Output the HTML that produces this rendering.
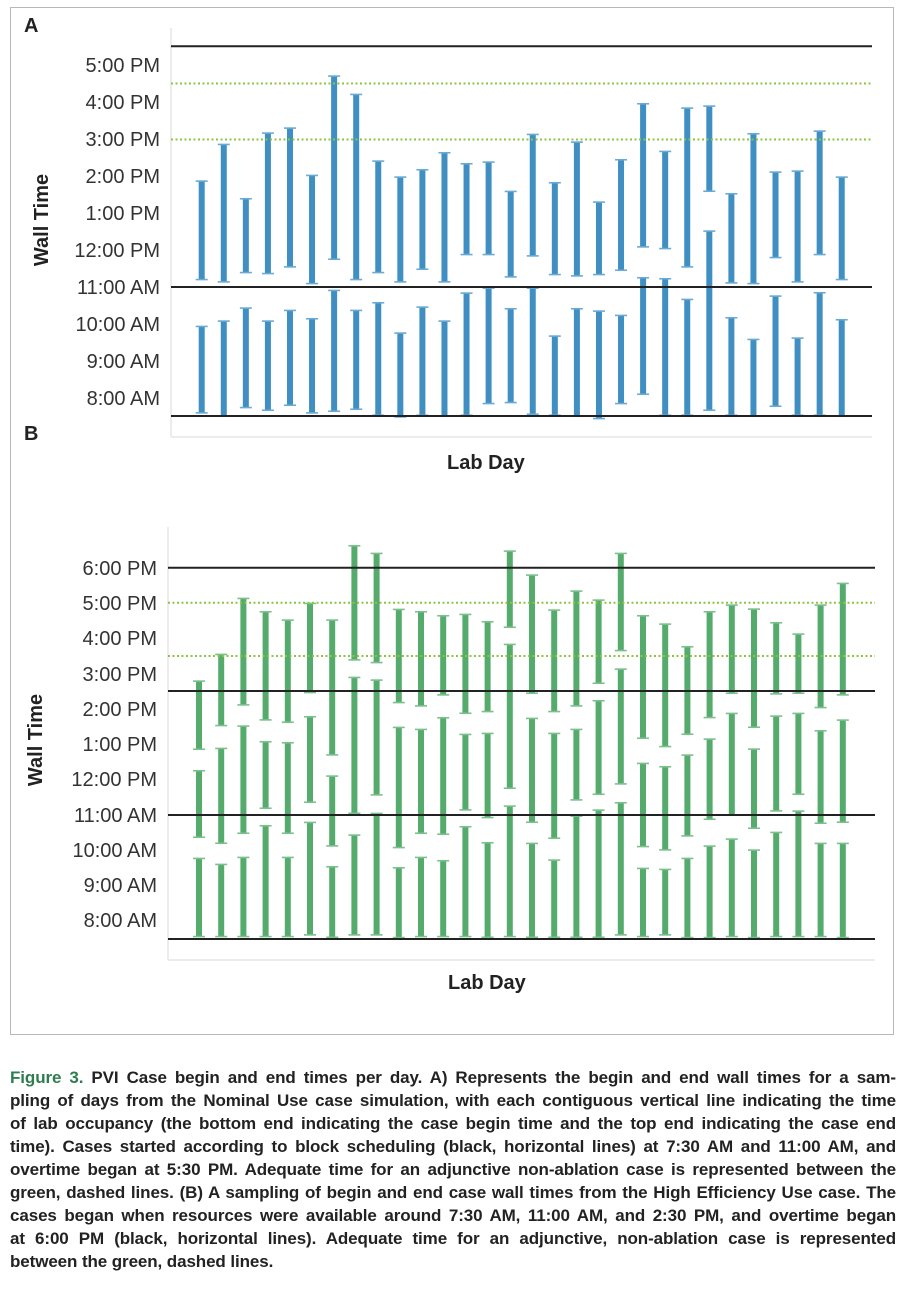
<!DOCTYPE html>
<html><head><meta charset="utf-8"><style>
body{margin:0;background:#fff;width:906px;height:1300px;position:relative;overflow:hidden;font-family:"Liberation Sans",sans-serif}
#frame{position:absolute;left:10px;top:7px;width:884px;height:1028px;border:1.5px solid #b8b8b8;box-sizing:border-box}
.cap{position:absolute;left:10px;width:886px;font-size:17px;font-weight:bold;color:#222;white-space:nowrap;text-align:justify;text-align-last:justify;letter-spacing:-0.1px;line-height:23px}
.last{text-align-last:left}
</style></head><body>
<div id="frame"></div>
<svg id="s" width="906" height="1040" style="position:absolute;left:0;top:0" font-family="Liberation Sans, sans-serif">
<g font-size="20" fill="#333" text-anchor="end">
<text x="160" y="72">5:00 PM</text><text x="160" y="109">4:00 PM</text><text x="160" y="146">3:00 PM</text><text x="160" y="183">2:00 PM</text><text x="160" y="220">1:00 PM</text><text x="160" y="257">12:00 PM</text><text x="160" y="294">11:00 AM</text><text x="160" y="331">10:00 AM</text><text x="160" y="368">9:00 AM</text><text x="160" y="405">8:00 AM</text>
<text x="157" y="575">6:00 PM</text><text x="157" y="610">5:00 PM</text><text x="157" y="645">4:00 PM</text><text x="157" y="681">3:00 PM</text><text x="157" y="716">2:00 PM</text><text x="157" y="751">1:00 PM</text><text x="157" y="786">12:00 PM</text><text x="157" y="822">11:00 AM</text><text x="157" y="857">10:00 AM</text><text x="157" y="892">9:00 AM</text><text x="157" y="927">8:00 AM</text>
</g>
<g font-weight="bold" font-size="20" fill="#222">
<text x="24" y="32">A</text><text x="24" y="440">B</text>
<text x="447" y="469">Lab Day</text><text x="448" y="989">Lab Day</text>
<text transform="translate(48,220) rotate(-90)" text-anchor="middle">Wall Time</text>
<text transform="translate(42,740) rotate(-90)" text-anchor="middle">Wall Time</text>
</g>
<g stroke="#e6e6e6" stroke-width="1.5">
<line x1="171" y1="28" x2="171" y2="437"/><line x1="171" y1="437" x2="872" y2="437"/>
<line x1="168" y1="527" x2="168" y2="960"/><line x1="168" y1="960" x2="875" y2="960"/>
</g>
<g id="bars"></g>
<g stroke="#222" stroke-width="2">
<line x1="171" y1="46.3" x2="872" y2="46.3"/><line x1="171" y1="287" x2="872" y2="287"/><line x1="171" y1="416" x2="872" y2="416"/>
<line x1="168" y1="567.7" x2="875" y2="567.7"/><line x1="168" y1="691" x2="875" y2="691"/><line x1="168" y1="815" x2="875" y2="815"/><line x1="168" y1="939" x2="875" y2="939"/>
</g>
<g stroke="#8cc63f" stroke-width="2" stroke-dasharray="2,2.5">
<line x1="171" y1="83.5" x2="872" y2="83.5"/><line x1="171" y1="139.5" x2="872" y2="139.5"/>
<line x1="168" y1="602.7" x2="875" y2="602.7"/><line x1="168" y1="656" x2="875" y2="656"/>
</g>
</svg>
<div class="cap" style="top:1066px"><span style="color:#2e7d4f">Figure 3.</span> PVI Case begin and end times per day. A) Represents the begin and end wall times for a sam-</div>
<div class="cap" style="top:1089px">pling of days from the Nominal Use case simulation, with each contiguous vertical line indicating the time</div>
<div class="cap" style="top:1112px">of lab occupancy (the bottom end indicating the case begin time and the top end indicating the case end</div>
<div class="cap" style="top:1135px">time). Cases started according to block scheduling (black, horizontal lines) at 7:30 AM and 11:00 AM, and</div>
<div class="cap" style="top:1158px">overtime began at 5:30 PM. Adequate time for an adjunctive non-ablation case is represented between the</div>
<div class="cap" style="top:1181px">green, dashed lines. (B) A sampling of begin and end case wall times from the High Efficiency Use case. The</div>
<div class="cap" style="top:1204px">cases began when resources were available around 7:30 AM, 11:00 AM, and 2:30 PM, and overtime began</div>
<div class="cap" style="top:1227px">at 6:00 PM (black, horizontal lines). Adequate time for an adjunctive, non-ablation case is represented</div>
<div class="cap last" style="top:1250px">between the green, dashed lines.</div>
<script>
var A=[[[958,1218],[522,818]],[[942,1228],[412,825]],[[903,1202],[575,797]],[[942,1210],[378,800]],[[910,1195],[363,780]],[[935,1218],[505,830]],[[850,1213],[207,757]],[[910,1207],[262,818]],[[887,1225],[462,797]],[[978,1230],[510,825]],[[900,1225],[488,787]],[[942,1228],[437,825]],[[858,1225],[470,743]],[[843,1190],[465,743]],[[905,1187],[553,810]],[[843,1222],[382,747]],[[987,1225],[527,803]],[[905,1228],[405,807]],[[912,1235],[585,803]],[[925,1190],[458,790]],[[812,1162],[290,720]],[[815,1225],[433,725]],[[877,1225],[303,780]],[[672,1210],[297,553]],[[932,1225],[560,828]],[[997,1228],[380,830]],[[867,1198],[495,752]],[[993,1225],[492,825]],[[857,1225],[372,743]],[[938,1228],[510,818]]];
var B=[[[1015,1250],[752,952],[483,688]],[[1033,1250],[685,970],[403,617]],[[1012,1250],[618,940],[235,555]],[[917,1250],[665,865],[275,600]],[[1012,1250],[668,940],[300,607]],[[907,1245],[590,847],[250,518]],[[1040,1252],[768,978],[300,705]],[[945,1245],[472,880],[77,420]],[[880,1245],[480,825],[100,428]],[[1043,1253],[622,983],[268,548]],[[1012,1250],[628,940],[275,558]],[[1022,1250],[593,943],[287,525]],[[920,1250],[643,870],[283,580]],[[968,1252],[640,893],[305,575]],[[858,1250],[373,805],[93,322]],[[970,1252],[595,907],[165,520]],[[1020,1252],[640,955],[270,575]],[[888,1252],[628,840],[213,558]],[[870,1252],[542,823],[240,490]],[[848,1245],[447,792],[100,392]],[[1045,1250],[730,980],[287,655]],[[1048,1245],[740,990],[312,680]],[[1015,1253],[705,948],[380,643]],[[978,1253],[657,898],[275,593]],[[957,1250],[580,885],[255,520]],[[990,1253],[687,925],[267,622]],[[937,1250],[588,873],[308,522]],[[873,1250],[580,823],[342,520]],[[970,1250],[632,910],[255,563]],[[970,1253],[600,907],[190,525]]];
var g=document.getElementById('bars'),h='';
function bar(x,y1,y2,c,cc){h+='<rect x="'+(x-3)+'" y="'+y1+'" width="6" height="'+(y2-y1)+'" fill="'+c+'"/>';h+='<rect x="'+(x-6)+'" y="'+(y1-0.7)+'" width="12" height="1.6" fill="'+cc+'"/><rect x="'+(x-6)+'" y="'+(y2-0.9)+'" width="12" height="1.6" fill="'+cc+'"/>';}
A.forEach(function(d,i){var x=201.7+i*22.07;d.forEach(function(s){bar(x,7+s[0]/3,7+s[1]/3,'#3f8fc2','#6aaad4');});});
B.forEach(function(d,i){var x=199+i*22.2;d.forEach(function(s){bar(x,520+s[0]/3,520+s[1]/3,'#55ab6c','#7cc08e');});});
g.innerHTML=h;
</script>
</body></html>
